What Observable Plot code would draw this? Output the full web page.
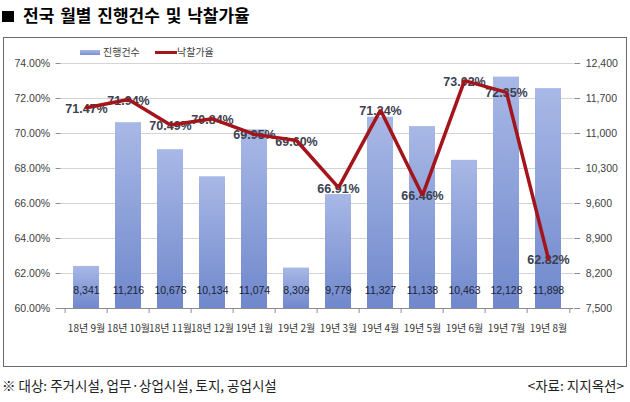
<!DOCTYPE html>
<html><head><meta charset="utf-8">
<script src="https://cdn.jsdelivr.net/npm/d3@7"></script>
<script src="https://cdn.jsdelivr.net/npm/@observablehq/plot@0.6"></script>
<style>
  body { margin:0; background:#fff; width:630px; height:402px; position:relative; overflow:hidden;
         font-family:"Liberation Sans","Noto Sans CJK KR",sans-serif; }
  #title { position:absolute; left:2px; top:3px; font:bold 17px "Noto Sans CJK KR",sans-serif; color:#000; line-height:24px; white-space:nowrap; word-spacing:2px; }
  #title .sq { display:inline-block; width:12px; height:11px; background:#000; margin-right:9px; vertical-align:0px; }
  #box { position:absolute; left:3px; top:37px; width:624px; height:330px; box-sizing:border-box; border:1px solid #6a6a6a; pointer-events:none; }
  #chart { position:absolute; left:0; top:38px; }
  .leg { position:absolute; font:10px "Noto Sans CJK KR",sans-serif; color:#404040; line-height:12px; white-space:nowrap; }
  #footL { position:absolute; left:2px; top:375px; font:13.5px "Noto Sans CJK KR",sans-serif; color:#222; white-space:nowrap; }
  #footR { position:absolute; right:6px; top:375px; font:13.5px "Noto Sans CJK KR",sans-serif; color:#222; white-space:nowrap; }
</style>
</head><body>
<div id="title"><span class="sq"></span>전국 월별 진행건수 및 낙찰가율</div>
<div id="chart"></div>
<div id="box"></div>
<div class="leg" style="left:80px;top:50px;width:20px;height:5px;background:linear-gradient(#a8b8e6,#7a90cf);"></div>
<div class="leg" style="left:103px;top:46px;">진행건수</div>
<div class="leg" style="left:155px;top:51px;width:22px;height:3px;background:#a3141b;"></div>
<div class="leg" style="left:177px;top:46px;">낙찰가율</div>
<div id="footL">※ 대상: 주거시설, 업무·상업시설, 토지, 공업시설</div>
<div id="footR">&lt;자료: 지지옥션&gt;</div>
<script>
const months = ["18년 9월","18년 10월","18년 11월","18년 12월","19년 1월","19년 2월","19년 3월","19년 4월","19년 5월","19년 6월","19년 7월","19년 8월"];
const counts = [8341,11216,10676,10134,11074,8309,9779,11327,11138,10463,12128,11898];
const rates = [71.47,71.94,70.49,70.84,69.95,69.60,66.91,71.34,66.46,73.02,72.35,62.82];
const leftTicks = [60,62,64,66,68,70,72,74];
const rightTicks = [7500,8200,8900,9600,10300,11000,11700,12400];

const cMin = rightTicks[0], cMax = rightTicks[rightTicks.length-1];
const pMin = leftTicks[0], pMax = leftTicks[leftTicks.length-1];
const toPct = c => pMin + (c - cMin) / (cMax - cMin) * (pMax - pMin);
const fromPct = p => cMin + (p - pMin) / (pMax - pMin) * (cMax - cMin);

const data = months.map((m,i) => ({month:m, count:counts[i], rate:rates[i]}));

const W = 630, H = 328, ML = 60.6, MR = 56.8, MT = 25, MB = 58;
const step = (W - ML - MR) / months.length;

const chart = Plot.plot({
  width: W, height: H,
  marginLeft: ML, marginRight: MR, marginTop: MT, marginBottom: MB,
  style: {fontFamily:'"Liberation Sans","Noto Sans CJK KR",sans-serif', fontSize:"10.5px", color:"#404040", background:"transparent", overflow:"visible"},
  x: {domain: months, paddingInner: 0.375, paddingOuter: 0.1875, label: null},
  y: {domain: [pMin, pMax], label: null},
  marks: [
    Plot.gridY(leftTicks, {stroke:"#d4d4d4", strokeOpacity:1}),
    Plot.barY(data, {x:"month", y1: pMin, y2: d => toPct(d.count), fill:"url(#barGrad)"}),
    Plot.text(data, {x:"month", text: d => d3.format(",")(d.count), frameAnchor:"bottom", dy:-15, fill:"#1c2233", fontSize:10.5}),
    Plot.text(data, {x:"month", y:"rate", text: d => d.rate.toFixed(2) + "%", fill:"#3c4150", fontWeight:"bold", fontSize:12.5, dy:1}),
    Plot.line(data, {x:"month", y:"rate", stroke:"#a3141b", strokeWidth:3.5, strokeLinejoin:"miter"}),
    Plot.ruleY([pMin], {stroke:"#8c8c8c"}),
    Plot.ruleX(months, {x: d => d, y1: pMin, y2: pMin, insetBottom: -5, dx: -step/2, stroke:"#8c8c8c"}),
    Plot.ruleX(months.slice(-1), {x: d => d, y1: pMin, y2: pMin, insetBottom: -5, dx: step/2, stroke:"#8c8c8c"}),
    Plot.axisX({tickSize:0, tickPadding:16, fontSize:10, fill:"#333", fontFamily:'"Noto Sans CJK KR",sans-serif'}),
    Plot.axisY(leftTicks, {anchor:"left", line:true, stroke:"#8c8c8c", tickSize:5, tickPadding:6, fill:"#404040", tickFormat: d => d.toFixed(2) + "%"}),
    Plot.axisY(rightTicks.map(toPct), {anchor:"right", line:true, stroke:"#8c8c8c", tickSize:6, tickPadding:6, fill:"#404040", tickFormat: v => d3.format(",")(Math.round(fromPct(v)))})
  ]
});

const ns = "http://www.w3.org/2000/svg";
const defs = document.createElementNS(ns, "defs");
defs.innerHTML = '<linearGradient id="barGrad" x1="0" y1="0" x2="0" y2="1"><stop offset="0" stop-color="#a8b8e6"/><stop offset="1" stop-color="#7088cc"/></linearGradient>';
chart.insertBefore(defs, chart.firstChild);
document.getElementById("chart").appendChild(chart);
</script>
</body></html>
